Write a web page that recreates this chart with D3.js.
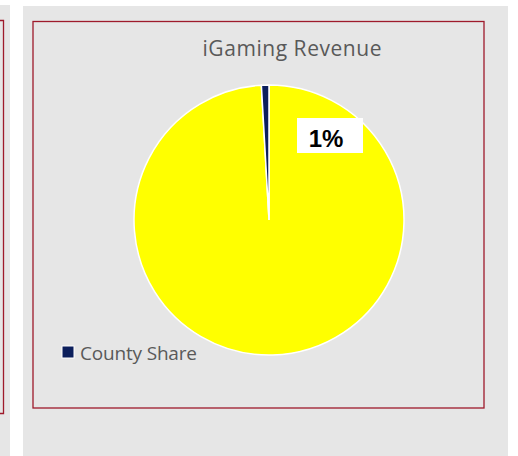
<!DOCTYPE html>
<html>
<head>
<meta charset="utf-8">
<script src="https://cdn.jsdelivr.net/npm/d3@7"></script>
<style>
  body { margin: 0; background: #ffffff; }
  svg { display: block; }
</style>
</head>
<body>
<div id="chart"></div>
<script>
// data
var categories = ["Rest of Revenue", "County Share"];
var values = [99.1, 0.9];
var labels = ["", "1%"];
var legendItems = ["County Share"];
var colors = ["#ffff00", "#0c1f5c"];

var width = 518, height = 456;

var svg = d3.select("#chart")
  .append("svg")
  .attr("width", width)
  .attr("height", height);

// neighbouring panel on the left (cut off)
svg.append("rect").attr("x", 0).attr("y", 5).attr("width", 10).attr("height", 460).attr("fill", "#e6e6e6");
svg.append("path")
  .attr("d", "M0,20.5 H3.5 V413.5 H0")
  .attr("fill", "none")
  .attr("stroke", "#9e1a2b")
  .attr("stroke-width", 1.3);

// main panel
svg.append("rect").attr("x", 23).attr("y", 6).attr("width", 485).attr("height", 460).attr("fill", "#e6e6e6");
svg.append("rect")
  .attr("x", 33).attr("y", 21.5)
  .attr("width", 451).attr("height", 386.5)
  .attr("fill", "none")
  .attr("stroke", "#9e1a2b")
  .attr("stroke-width", 1.3);

// title
svg.append("text")
  .attr("x", 292)
  .attr("y", 56)
  .attr("text-anchor", "middle")
  .attr("textLength", 179)
  .style("font-family", "'Open Sans', sans-serif")
  .style("font-size", "21px")
  .style("fill", "#595959")
  .text("iGaming Revenue");

// pie
var cx = 269, cy = 220, r = 135;
var pie = d3.pie().sort(null).value(function (d) { return d; })
  .startAngle(0).endAngle(2 * Math.PI);
var arc = d3.arc().innerRadius(0).outerRadius(r);
var arcs = pie(values);

var g = svg.append("g").attr("transform", "translate(" + cx + "," + cy + ")");
g.selectAll("path")
  .data(arcs)
  .enter()
  .append("path")
  .attr("d", arc)
  .attr("fill", function (d, i) { return colors[i]; })
  .attr("stroke", "#ffffff")
  .attr("stroke-width", 1.5);

// data label (box placed to the upper right, as in the picture)
var labelG = svg.append("g");
arcs.forEach(function (d, i) {
  if (!labels[i]) return;
  var lx = 330, ly = 135.5;
  labelG.append("rect")
    .attr("x", lx - 33).attr("y", ly - 17.5)
    .attr("width", 66).attr("height", 35)
    .attr("fill", "#ffffff");
  labelG.append("text")
    .attr("x", lx - 4)
    .attr("y", 147)
    .attr("text-anchor", "middle")
    .style("font-family", "'Liberation Sans', Arial, sans-serif")
    .style("font-weight", "bold")
    .style("font-size", "24px")
    .style("fill", "#000000")
    .text(labels[i]);
});

// legend
var legend = svg.append("g").attr("transform", "translate(62,346)");
legendItems.forEach(function (name, i) {
  var idx = categories.indexOf(name);
  legend.append("rect")
    .attr("x", 0).attr("y", 0)
    .attr("width", 12).attr("height", 12)
    .attr("fill", colors[idx])
    .attr("stroke", "#ffffff")
    .attr("stroke-width", 1);
  legend.append("text")
    .attr("x", 18)
    .attr("y", 14)
    .attr("textLength", 117)
    .style("font-family", "'Open Sans', sans-serif")
    .style("font-size", "19px")
    .style("fill", "#595959")
    .text(name);
});
</script>
</body>
</html>
